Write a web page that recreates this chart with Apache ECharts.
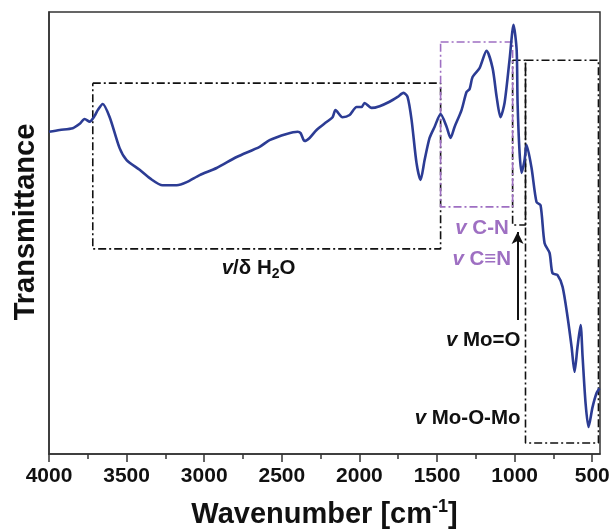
<!DOCTYPE html>
<html>
<head>
<meta charset="utf-8">
<script src="https://cdn.jsdelivr.net/npm/echarts@6/dist/echarts.min.js"></script>
<style>html,body{margin:0;padding:0;background:#fff}#c{width:614px;height:530px}</style>
</head>
<body>
<div id="c"></div>
<script>
// ---- data ----
const wavenumbers = [4000,3931,3847,3802,3770,3738,3706,3686,3654,3609,3545,3500,3416,3351,3268,3177,3113,3029,2920,2791,2643,2579,2469,2398,2379,2353,2321,2276,2212,2173,2154,2109,2063,2018,1986,1967,1922,1870,1806,1754,1716,1690,1664,1632,1606,1580,1548,1516,1477,1438,1413,1387,1342,1310,1290,1271,1226,1181,1142,1116,1091,1065,1033,1007,987,981,968,955,936,923,891,859,833,807,775,756,724,691,659,633,614,595,575,562,543,524,498,472,453];
const transmittance = [72.9,73.3,73.7,74.7,75.8,75.2,76.5,77.8,79.2,76.2,69.2,66.5,64.3,62.4,60.8,60.8,61.5,63.1,64.7,67.2,69.5,71.0,72.4,72.9,72.6,70.8,71.5,73.3,75.1,76.2,77.8,76.2,76.7,78.5,78.5,79.4,78.3,78.7,79.7,80.8,81.7,80.8,75.6,65.8,62.0,66.5,71.5,74.0,76.9,74.0,71.5,74.0,77.8,81.9,82.6,85.3,87.3,91.2,87.3,80.8,76.2,79.4,89.1,97.1,91.4,79.4,68.1,63.6,66.5,69.9,64.7,57.0,56.3,47.7,45.5,40.9,40.5,37.8,31.0,24.2,18.6,24.2,29.2,21.9,11.5,6.1,10.6,13.8,14.9];
const majorTicks = [4000,3500,3000,2500,2000,1500,1000,500];
const minorTicks = [3750,3250,2750,2250,1750,1250,750];
const xRange = [450, 4000];
const yRange = [0, 100];

// annotation boxes (data coordinates)
const boxH2O   = [[3718,83.9],[1477,83.9],[1477,46.4],[3718,46.4],[3718,83.9]];
const boxCN    = [[1477,93.2],[1013,93.2],[1013,55.9],[1477,55.9],[1477,93.2]];
const boxMoO   = [[1013,89.1],[930,89.1],[930,51.8],[1013,51.8],[1013,89.1]];
const boxMoOMo = [[930,89.1],[460,89.1],[460,2.5],[930,2.5],[930,89.1]];
const arrowMoO = [[981,30.3],[981,50.2]];

const labelTexts = ['{i|v}{n|/δ H}{s|2}{n|O}', '{i|v}{n| C-N}', '{i|v}{n| C≡N}', '{i|v}{n| Mo=O}', '{i|v}{n| Mo-O-Mo}'];
const labelAnchors = [[2650,42.1],[1210,51.1],[1212,44.1],[962,25.8],[962,8.1]];

// ---- styling ----
const FONT = 'Liberation Sans, Arial, sans-serif';
const BLACK = '#111111';
const PURPLE = '#9e6fc2';
const BLUE = '#2c3c94';
const dashDot = [8,3,2,3];

function richFor(color){
  const base = {fontFamily:FONT,fontWeight:'bold',fontSize:20.5,color:color,textBorderWidth:0,opacity:1};
  return {
    i:Object.assign({}, base, {fontStyle:'italic'}),
    n:Object.assign({}, base),
    s:Object.assign({}, base, {fontSize:14, padding:[13,0,0,0]})
  };
}
const labelColors = [BLACK, PURPLE, PURPLE, BLACK, BLACK];
const labelAligns = ['center','center','center','right','right'];

function boxSeries(data, color, z){
  return {type:'line', data:data, symbol:'none', silent:true, z:z, animation:false,
    lineStyle:{color:color, width:1.6, type:dashDot}};
}

const chart = echarts.init(document.getElementById('c'), null, {renderer:'canvas'});
chart.setOption({
  animation:false,
  backgroundColor:'#fff',
  grid:{left:49, right:14, top:12, bottom:76, show:true, borderColor:'#333', borderWidth:1.5,
    containLabel:false, outerBoundsMode:'none'},
  xAxis:[{
    type:'value', inverse:true, min:xRange[0], max:xRange[1],
    name:'Wavenumber [cm{sup|-1}]', nameLocation:'middle', nameGap:44,
    nameTextStyle:{fontFamily:FONT,fontWeight:'bold',fontSize:29,color:BLACK,
      rich:{sup:{fontFamily:FONT,fontWeight:'bold',fontSize:18,color:BLACK,padding:[0,0,15,0]}}},
    axisLine:{show:true, lineStyle:{color:'#333',width:1.5}},
    axisTick:{show:true, inside:false, length:8, lineStyle:{color:'#333',width:1.5}, customValues:majorTicks},
    axisLabel:{show:true, margin:12, fontFamily:FONT, fontWeight:'bold', fontSize:21, color:BLACK,
      customValues:majorTicks, formatter:(v)=>String(v)},
    splitLine:{show:false}, minorTick:{show:false}
  },{
    type:'value', inverse:true, min:xRange[0], max:xRange[1], position:'bottom',
    axisLine:{show:false},
    axisTick:{show:true, length:5, lineStyle:{color:'#333',width:1.5}, customValues:minorTicks},
    axisLabel:{show:false}, splitLine:{show:false}
  }],
  yAxis:{
    type:'value', min:yRange[0], max:yRange[1],
    name:'Transmittance', nameLocation:'middle', nameGap:9, nameRotate:90,
    nameTextStyle:{fontFamily:FONT,fontWeight:'bold',fontSize:29,color:BLACK,padding:[0,0,0,22]},
    axisLine:{show:true, lineStyle:{color:'#333',width:1.5}},
    axisTick:{show:false}, axisLabel:{show:false}, splitLine:{show:false}
  },
  series:[
    boxSeries(boxH2O, BLACK, 2),
    boxSeries(boxMoO, BLACK, 2),
    boxSeries(boxMoOMo, BLACK, 2),
    boxSeries(boxCN, PURPLE, 3),
    {
      type:'line', data:wavenumbers.map((w,i)=>[w, transmittance[i]]),
      symbol:'none', smooth:0.25, z:5,
      lineStyle:{color:BLUE, width:2.6}
    },
    {
      type:'line', data:[], symbol:'none', silent:true,
      markLine:{
        silent:true, symbol:['none','arrow'], symbolSize:[9,12],
        label:{show:false},
        lineStyle:{color:BLACK, width:2, type:'solid'},
        data:[[{coord:arrowMoO[0]},{coord:arrowMoO[1]}]]
      }
    },
    {
      type:'scatter', symbolSize:0, silent:true, z:6,
      itemStyle:{color:'transparent', opacity:1},
      data:labelAnchors.map((p,k)=>({
        value:p,
        label:{show:true, position:'inside', formatter:labelTexts[k], align:labelAligns[k],
          verticalAlign:'middle', color:labelColors[k], opacity:1, textBorderWidth:0, textBorderColor:'transparent',
          rich:richFor(labelColors[k])}
      }))
    }
  ]
});
</script>
</body>
</html>
